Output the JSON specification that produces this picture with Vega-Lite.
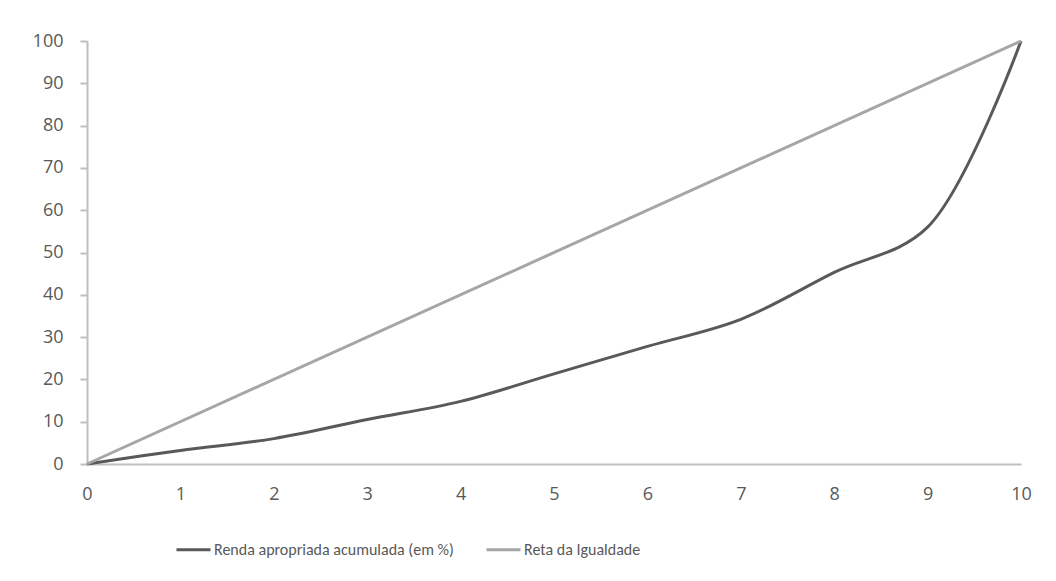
{
  "$schema": "https://vega.github.io/schema/vega-lite/v6.json",
  "width": 934,
  "height": 423,
  "autosize": {"type": "none"},
  "padding": {"left": 87, "top": 41, "right": 35, "bottom": 117},
  "background": "white",
  "config": {
    "view": {"stroke": null},
    "font": "Open Sans, sans-serif"
  },
  "data": {
    "values": [
      {"decil": 0, "valor": 0, "serie": "Renda apropriada acumulada (em %)"},
      {"decil": 1, "valor": 3.2, "serie": "Renda apropriada acumulada (em %)"},
      {"decil": 2, "valor": 6, "serie": "Renda apropriada acumulada (em %)"},
      {"decil": 3, "valor": 10.5, "serie": "Renda apropriada acumulada (em %)"},
      {"decil": 4, "valor": 14.8, "serie": "Renda apropriada acumulada (em %)"},
      {"decil": 5, "valor": 21.3, "serie": "Renda apropriada acumulada (em %)"},
      {"decil": 6, "valor": 27.8, "serie": "Renda apropriada acumulada (em %)"},
      {"decil": 7, "valor": 34.2, "serie": "Renda apropriada acumulada (em %)"},
      {"decil": 8, "valor": 45.3, "serie": "Renda apropriada acumulada (em %)"},
      {"decil": 9, "valor": 56, "serie": "Renda apropriada acumulada (em %)"},
      {"decil": 10, "valor": 100, "serie": "Renda apropriada acumulada (em %)"},
      {"decil": 0, "valor": 0, "serie": "Reta da Igualdade"},
      {"decil": 10, "valor": 100, "serie": "Reta da Igualdade"}
    ]
  },
  "mark": {"type": "line", "interpolate": "catmull-rom", "strokeWidth": 3, "clip": false},
  "encoding": {
    "x": {
      "field": "decil",
      "type": "quantitative",
      "scale": {"domain": [0, 10], "nice": false, "zero": false},
      "axis": {
        "title": null,
        "values": [0, 1, 2, 3, 4, 5, 6, 7, 8, 9, 10],
        "format": "d",
        "grid": false,
        "ticks": false,
        "labelFlush": false,
        "domainColor": "#BFBFBF",
        "domainWidth": 2,
        "labelColor": "#595959",
        "labelFont": "Open Sans",
        "labelFontSize": 18,
        "labelPadding": 21
      }
    },
    "y": {
      "field": "valor",
      "type": "quantitative",
      "scale": {"domain": [0, 100], "nice": false},
      "axis": {
        "title": null,
        "values": [0, 10, 20, 30, 40, 50, 60, 70, 80, 90, 100],
        "grid": false,
        "ticks": true,
        "tickSize": 7,
        "tickColor": "#BFBFBF",
        "tickWidth": 2,
        "domainColor": "#BFBFBF",
        "domainWidth": 2,
        "labelColor": "#595959",
        "labelFont": "Open Sans",
        "labelFontSize": 18,
        "labelPadding": 17
      }
    },
    "color": {
      "field": "serie",
      "type": "nominal",
      "scale": {
        "domain": ["Renda apropriada acumulada (em %)", "Reta da Igualdade"],
        "range": ["#595959", "#A6A6A6"]
      },
      "legend": {
        "title": null,
        "orient": "none",
        "legendX": 88,
        "legendY": 490,
        "direction": "horizontal",
        "symbolType": "stroke",
        "symbolStrokeWidth": 3,
        "symbolSize": 1156,
        "labelFont": "Carlito, Lato",
        "labelFontSize": 16,
        "labelColor": "#595959",
        "labelLimit": 0,
        "columnPadding": 26,
        "labelOffset": 2
      }
    }
  }
}
